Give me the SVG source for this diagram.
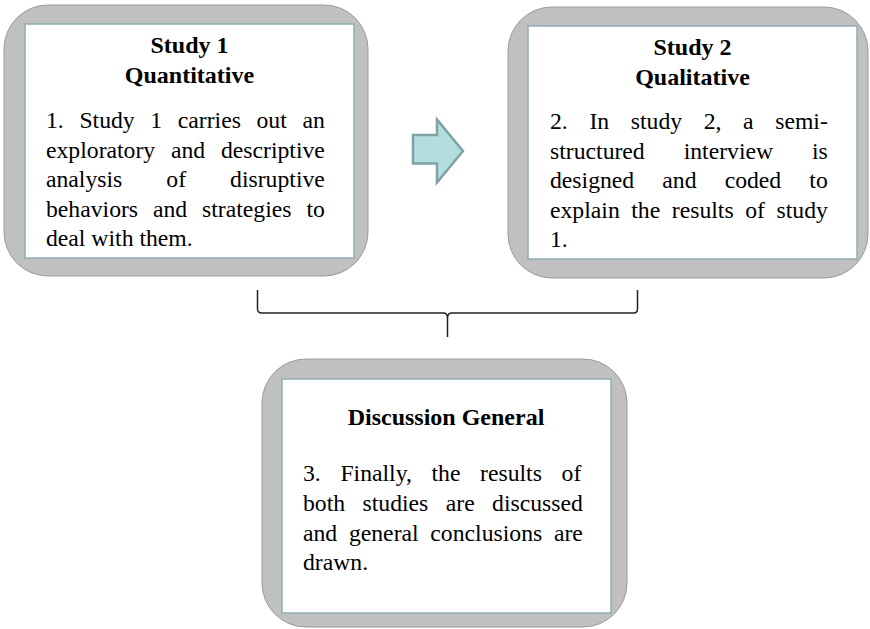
<svg xmlns="http://www.w3.org/2000/svg" width="870" height="629" viewBox="0 0 870 629">
<style>
.outer{fill:#c0c0c0;stroke:#9a9a9a;stroke-width:1}
.inner{fill:#ffffff;stroke:#8fadb2;stroke-width:1.5}
text{font-family:'Liberation Serif','DejaVu Serif',serif}
.h{font-weight:bold;font-size:24px;fill:#000;text-anchor:middle}
.b{font-size:23.7px;fill:#000}
.arrow{fill:#b4dde0;stroke:#7fa3a5;stroke-width:2.5;stroke-linejoin:miter}
.brace{fill:none;stroke:#222;stroke-width:1.5}
</style>
<rect width="870" height="629" fill="#ffffff"/>
<g id="study1" font-family="Liberation Serif, DejaVu Serif, serif">
<rect class="outer" x="4" y="5" width="364" height="271" rx="44"/>
<rect class="inner" x="25" y="24" width="329" height="234"/>
<text class="h" x="189.5" y="53">Study 1</text>
<text class="h" x="189.5" y="83">Quantitative</text>
<text class="b" x="46" y="128" style="word-spacing:9.7px">1. Study 1 carries out an</text>
<text class="b" x="46" y="157.5" style="word-spacing:9.85px">exploratory and descriptive</text>
<text class="b" x="46" y="187" style="word-spacing:38.1px">analysis of disruptive</text>
<text class="b" x="46" y="216.5" style="word-spacing:8.97px">behaviors and strategies to</text>
<text class="b" x="46" y="246">deal with them.</text>
</g>
<g id="study2" font-family="Liberation Serif, DejaVu Serif, serif">
<rect class="outer" x="508" y="7" width="360" height="271" rx="44"/>
<rect class="inner" x="528" y="26" width="329" height="233"/>
<text class="h" x="692.5" y="55">Study 2</text>
<text class="h" x="692.5" y="85">Qualitative</text>
<text class="b" x="550" y="129" style="word-spacing:15.7px">2. In study 2, a semi-</text>
<text class="b" x="550" y="158.5" style="word-spacing:33px">structured interview is</text>
<text class="b" x="550" y="188" style="word-spacing:22.2px">designed and coded to</text>
<text class="b" x="550" y="217.5" style="word-spacing:5.65px">explain the results of study</text>
<text class="b" x="550" y="247">1.</text>
</g>
<g id="discussion" font-family="Liberation Serif, DejaVu Serif, serif">
<rect class="outer" x="262" y="359" width="365" height="268" rx="44"/>
<rect class="inner" x="282" y="379" width="329" height="234"/>
<text class="h" x="446" y="425">Discussion General</text>
<text class="b" x="303" y="481" style="word-spacing:13.7px">3. Finally, the results of</text>
<text class="b" x="303" y="511" style="word-spacing:11.5px">both studies are discussed</text>
<text class="b" x="303" y="540.5" style="word-spacing:5.8px">and general conclusions are</text>
<text class="b" x="303" y="570">drawn.</text>
</g>
<g id="connectors">
<path class="arrow" d="M413,135 L437,135 L437,119.5 L463,151 L437,182.5 L437,163.5 L413,163.5 Z"/>
<path class="brace" d="M257.5,290 L257.5,309 Q257.5,313 262,313 L443.5,313 Q447.5,313 447.5,318 L447.5,337 M447.5,318 Q447.5,313 452,313 L633.5,313 Q637.5,313 637.5,309 L637.5,290"/>
</g>
</svg>
